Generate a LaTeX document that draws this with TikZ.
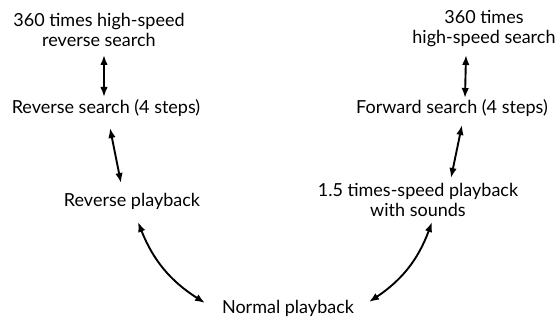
\documentclass[tikz,border=0pt]{standalone}
\usepackage{fontspec}
\setmainfont{Lato}
\usetikzlibrary{calc,arrows.meta}

\begin{document}
\begin{tikzpicture}[x=1pt,y=-1pt,
  lbl/.style={font=\fontsize{18}{20}\selectfont, align=center, inner sep=1pt},
  arr/.style={{Latex[length=10pt,width=7.5pt]}-{Latex[length=10pt,width=7.5pt]}, line width=1.9pt}]
\useasboundingbox (0,0) rectangle (558,321);
% left column
\node[lbl] (hsr) at (99,30) {360 times high-speed\\reverse search};
\node[lbl] (rs) at (106,108) {Reverse search (4 steps)};
\node[lbl] (rp) at (132,201) {Reverse playback};
% bottom
\node[lbl] (np) at (288,308) {Normal playback};
% right column
\node[lbl] (hsf) at (484,29) {360 times\\high-speed search};
\node[lbl] (fs) at (452,108) {Forward search (4 steps)};
\node[lbl] (sp) at (418,200) {1.5 times-speed playback\\with sounds};
% arrows left
\draw[arr] ($(hsr)+(5,25)$) -- ($(rs)+(-2,-11)$);
\draw[arr] ($(rs)+(4,20)$) -- ($(rp)+(-11,-18)$);
\draw[arr] ($(np)+(-83,-5)$) to[bend left=18] ($(rp)+(6,21)$);
% arrows right
\draw[arr] ($(hsf)+(-18,26)$) -- ($(fs)+(13,-10)$);
\draw[arr] ($(fs)+(10,17)$) -- ($(sp)+(33,-22)$);
\draw[arr] ($(np)+(81,-6)$) to[bend right=18] ($(sp)+(14,22)$);
\end{tikzpicture}
\end{document}
